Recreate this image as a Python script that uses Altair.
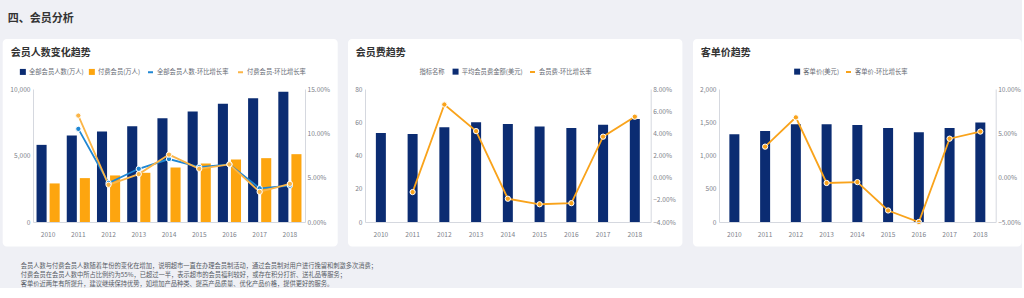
import altair as alt
import pandas as pd

# ---------------- data ----------------
years = ["2010", "2011", "2012", "2013", "2014", "2015", "2016", "2017", "2018"]

# panel 1 : members
all_members = [5800, 6500, 6800, 7200, 7800, 8300, 8900, 9300, 9800]
paid_members = [2900, 3300, 3500, 3700, 4100, 4400, 4700, 4800, 5100]
all_growth = [None, 10.5, 4.4, 6.0, 7.1, 6.2, 6.5, 3.8, 4.1]
paid_growth = [None, 12.0, 4.2, 5.4, 7.6, 6.0, 6.5, 3.4, 4.3]

# panel 2 : membership fee
avg_fee = [53.5, 53.0, 57.0, 60.0, 59.0, 57.5, 56.5, 58.5, 62.0]
fee_growth = [None, -1.3, 6.6, 4.2, -1.9, -2.4, -2.3, 3.7, 5.5]

# panel 3 : average order price
order_price = [1320, 1370, 1470, 1470, 1460, 1415, 1350, 1415, 1495]
price_growth = [None, 3.5, 6.8, -0.6, -0.5, -3.7, -5.0, 4.4, 5.2]

s_all = "全部会员人数(万人)"
s_paid = "付费会员(万人)"
s_all_g = "全部会员人数-环比增长率"
s_paid_g = "付费会员-环比增长率"
s_fee = "平均会员费金额(美元)"
s_fee_g = "会员费-环比增长率"
s_price = "客单价(美元)"
s_price_g = "客单价-环比增长率"

notes = [
    "会员人数与付费会员人数随着年份的变化在增加，说明超市一直在办理会员制活动，通过会员制对用户进行挽留和刺激多次消费；",
    "付费会员在会员人数中所占比例约为55%，已超过一半，表示超市的会员福利较好，或存在积分打折、送礼品等服务；",
    "客单价近两年有所提升，建议继续保持优势，如增加产品种类、提高产品质量、优化产品价格，提供更好的服务。",
]

# ---------------- style ----------------
FONT = "Noto Sans CJK SC"
NAVY = "#0b2c72"
ORANGE = "#fda50f"
BLUE_LINE = "#1f87d3"
ORANGE_LINE = "#fbb547"
ORANGE_LINE2 = "#f9a31b"
AXIS_C = "#d5d8df"
LABEL_C = "#7d818a"
LEG_C = "#666a73"
FS = 6.6
LFS = 6.3
H = 133


def long_df(series_map):
    rows = []
    for name, vals in series_map:
        for y, v in zip(years, vals):
            if v is not None:
                rows.append({"year": y, "series": name, "value": v})
    return pd.DataFrame(rows)


def x_axis():
    return alt.Axis(labelAngle=0, title=None, ticks=False, domainColor=AXIS_C,
                    labelColor=LABEL_C, labelFontSize=FS, labelPadding=9, zindex=1,
                    labelFont=FONT)


def left_axis(values):
    return alt.Axis(orient="left", values=values, labelExpr="format(datum.value, ',')",
                    title=None, ticks=False, grid=False, domainColor=AXIS_C,
                    labelColor=LABEL_C, labelFontSize=FS, labelPadding=3, zindex=1,
                    labelFont=FONT)


def right_axis(values):
    return alt.Axis(orient="right", values=values,
                    labelExpr="format(datum.value, '.2f') + '%'", title=None, ticks=False,
                    grid=False, domainColor=AXIS_C, labelColor=LABEL_C, labelFontSize=FS,
                    labelPadding=2, zindex=1, labelFont=FONT)


def panel(width, title, title_dx, bg_left, bg_right,
          bar_df, bar_series, bar_colors, bar_dom, bar_vals, bar_legx, bar_title,
          line_df, line_series, line_colors, line_dom, line_vals, line_legx, grouped,
          extra=None):
    bg = alt.Chart(pd.DataFrame({"k": [0]})).mark_rect(
        color="white", cornerRadius=4).encode(
        x=alt.value(-bg_left), x2=alt.value(width + bg_right),
        y=alt.value(-50), y2=alt.value(H + 24.5))

    leg_common = dict(orient="none", direction="horizontal", legendY=-20.5,
                      labelFontSize=LFS, labelColor=LEG_C, labelFont=FONT,
                      columnPadding=5, labelOffset=3, padding=0, labelLimit=300)

    bar_leg = alt.Legend(legendX=bar_legx, symbolType="square", symbolSize=36,
                         symbolStrokeWidth=0, title=bar_title,
                         **({"titleOrient": "left", "titleFontSize": LFS,
                             "titleFontWeight": "normal", "titleColor": LEG_C,
                             "titleFont": FONT, "titlePadding": 7} if bar_title else {}),
                         **leg_common)
    xenc = alt.X("year:O", scale=alt.Scale(paddingInner=0, paddingOuter=0), axis=x_axis())
    benc = dict(
        x=xenc,
        y=alt.Y("value:Q", scale=alt.Scale(domain=bar_dom, nice=False),
                axis=left_axis(bar_vals)),
        color=alt.Color("series:N", scale=alt.Scale(domain=bar_series, range=bar_colors),
                        legend=bar_leg),
    )
    if grouped:
        benc["xOffset"] = alt.XOffset("series:N", sort=bar_series,
                                      scale=alt.Scale(domain=bar_series,
                                                      paddingInner=0.23, paddingOuter=0.27))
        bars = alt.Chart(bar_df).mark_bar().encode(**benc)
    else:
        bars = alt.Chart(bar_df).mark_bar(size=10).encode(**benc)

    line_leg = alt.Legend(legendX=line_legx, symbolType="stroke", symbolSize=25,
                          symbolStrokeWidth=2, title=None, **leg_common)
    lenc = dict(
        x=alt.X("year:O"),
        y=alt.Y("value:Q", scale=alt.Scale(domain=line_dom, nice=False),
                axis=right_axis(line_vals)),
        color=alt.Color("series:N", scale=alt.Scale(domain=line_series, range=line_colors),
                        legend=line_leg),
    )
    lines = alt.Chart(line_df).mark_line(strokeWidth=1.8).encode(**lenc)
    pts = alt.Chart(line_df).mark_circle(size=28, opacity=1, stroke="white",
                                         strokeWidth=1).encode(**lenc)
    inner = alt.layer(lines, pts)

    layers = [bg, bars, inner]
    if extra is not None:
        layers.append(extra)
    return alt.layer(*layers).resolve_scale(
        y="independent", color="independent").properties(
        width=width, height=H,
        title=alt.TitleParams(title, anchor="start", frame="group", dx=title_dx,
                              fontSize=10, fontWeight="bold", color="#333333",
                              font=FONT, offset=-18.7))


# bottom notes, drawn beneath the first panel through their own point scale
notes_df = pd.DataFrame({"idx": list(range(len(notes))), "line": notes})
notes_layer = alt.Chart(notes_df).mark_text(
    align="left", baseline="middle", fontSize=6.25, color="#555a63", font=FONT).encode(
    y=alt.Y("idx:O", axis=None,
            scale=alt.Scale(type="point", range=[177, 195.3], padding=0)),
    x=alt.value(-12.3), text="line:N")

p1 = panel(272, "会员人数变化趋势", -22.3, 30.3, 32.7,
           long_df([(s_all, all_members), (s_paid, paid_members)]), [s_all, s_paid],
           [NAVY, ORANGE], [0, 10000], [0, 5000, 10000], -13.3, None,
           long_df([(s_all_g, all_growth), (s_paid_g, paid_growth)]), [s_all_g, s_paid_g],
           [BLUE_LINE, ORANGE_LINE], [0, 15], [0, 5, 10, 15], 114, True,
           extra=notes_layer)

p2 = panel(285.7, "会员费趋势", -9.3, 17, 31.7,
           long_df([(s_fee, avg_fee)]), [s_fee], [NAVY], [0, 80], [0, 20, 40, 60, 80],
           54.4, "指标名称",
           long_df([(s_fee_g, fee_growth)]), [s_fee_g], [ORANGE_LINE2], [-4, 8],
           [-4, -2, 0, 2, 4, 6, 8], 164, False)

p3 = panel(276.7, "客单价趋势", -18.3, 26, 26,
           long_df([(s_price, order_price)]), [s_price], [NAVY], [0, 2000],
           [0, 500, 1000, 1500, 2000], 75, None,
           long_df([(s_price_g, price_growth)]), [s_price_g], [ORANGE_LINE2], [-5, 10],
           [-5, 0, 5, 10], 126, False)

chart = alt.hconcat(p1, alt.hconcat(p2, p3, spacing=68, bounds="flush"),
                    spacing=60, bounds="flush").properties(
    title=alt.TitleParams("四、会员分析", anchor="start", fontSize=11, fontWeight="bold",
                          color="#333333", font=FONT, dx=5, offset=15),
    background="#eff0f5",
    padding={"left": 2, "top": 13, "right": 0, "bottom": 0},
).configure_view(strokeWidth=0)

chart.save("out.html", embed_options={"renderer": "svg", "actions": False})
